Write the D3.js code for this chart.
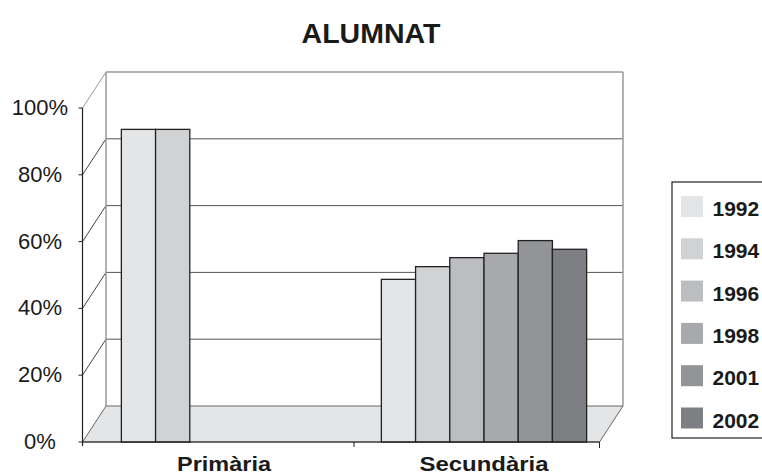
<!DOCTYPE html>
<html>
<head>
<meta charset="utf-8">
<script src="https://cdn.jsdelivr.net/npm/d3@7"></script>
<style>
  html, body { margin: 0; padding: 0; background: #fff; }
  #chart { width: 762px; height: 475px; }
</style>
</head>
<body>
<div id="chart"></div>
<script>
// ---- data ----
const categories = ['Primària', 'Secundària']
const years = ['1992', '1994', '1996', '1998', '2001', '2002']
const primaria = [93.6, 93.6, null, null, null, null]
const secundaria = [48.7, 52.5, 55.2, 56.5, 60.3, 57.7]
const yTicks = [0, 20, 40, 60, 80, 100]
const title = 'ALUMNAT'

const colors = ['#e4e5e7', '#d1d2d4', '#bcbdc0', '#a8a9ac', '#939497', '#7e7f82']
const font = '"Liberation Sans", Arial, sans-serif'

const width = 762
const height = 475
// front plane of the 3D box + depth offset
const front = { left: 82.5, right: 599.5, top: 108, bottom: 442 }
const depth = { dx: 23.5, dy: -36 }

const rows = []
categories.forEach((c, i) => {
  const vals = i === 0 ? primaria : secundaria
  years.forEach((yr, j) => {
    if (vals[j] != null) rows.push({ cat: c, year: yr, value: vals[j] })
  })
})

const svg = d3.select('#chart')
  .append('svg')
  .attr('width', width)
  .attr('height', height)

// Scales
const yScale = d3.scaleLinear()
  .domain([0, 100])
  .range([front.bottom, front.top])

const xCat = d3.scaleBand()
  .domain(categories)
  .range([front.left + 11.5, front.right + 14.5])
  .padding(0)

const xYear = d3.scaleBand()
  .domain(years)
  .range([0, xCat.bandwidth()])
  .paddingInner(0)
  .paddingOuter(0.8)

const backY = v => yScale(v) + depth.dy
const backLeft = front.left + depth.dx
const backRight = front.right + depth.dx

// ---- walls ----
const walls = svg.append('g').attr('class', 'walls')

// back wall gridlines
walls.selectAll('line.grid')
  .data(yTicks.filter(d => d > 0))
  .join('line')
  .attr('class', 'grid')
  .attr('x1', backLeft).attr('x2', backRight)
  .attr('y1', d => backY(d)).attr('y2', d => backY(d))
  .attr('stroke', d => d === 100 ? '#999' : '#555')
  .attr('stroke-width', d => d === 100 ? 1.5 : 1)

// left wall diagonals
walls.selectAll('line.diag')
  .data(yTicks.filter(d => d > 0))
  .join('line')
  .attr('class', 'diag')
  .attr('x1', front.left).attr('x2', backLeft)
  .attr('y1', d => yScale(d)).attr('y2', d => backY(d))
  .attr('stroke', d => d === 100 ? '#999' : '#444')
  .attr('stroke-width', 1)

// back wall vertical edges
walls.append('line')
  .attr('x1', backLeft).attr('x2', backLeft)
  .attr('y1', backY(100)).attr('y2', backY(0))
  .attr('stroke', '#999').attr('stroke-width', 1.5)
walls.append('line')
  .attr('x1', backRight).attr('x2', backRight)
  .attr('y1', backY(100)).attr('y2', backY(0))
  .attr('stroke', '#999').attr('stroke-width', 1.5)

// floor
const floorPts = [
  [front.left, yScale(0)], [front.right, yScale(0)],
  [backRight, backY(0)], [backLeft, backY(0)]
]
walls.append('polygon')
  .attr('points', floorPts.map(p => p.join(',')).join(' '))
  .attr('fill', '#e4e5e7')
  .attr('stroke', '#666')
  .attr('stroke-width', 1)

// ---- bars ----
svg.append('g')
  .attr('class', 'bars')
  .selectAll('rect')
  .data(rows)
  .join('rect')
  .attr('x', d => xCat(d.cat) + xYear(d.year))
  .attr('y', d => yScale(d.value))
  .attr('width', xYear.bandwidth())
  .attr('height', d => yScale(0) - yScale(d.value))
  .attr('fill', d => colors[years.indexOf(d.year)])
  .attr('stroke', '#222')
  .attr('stroke-width', 1.3)

// ---- axes ----
// front vertical axis
svg.append('line')
  .attr('x1', front.left).attr('x2', front.left)
  .attr('y1', yScale(100)).attr('y2', yScale(0) + 4)
  .attr('stroke', '#222').attr('stroke-width', 1.2)

svg.append('g')
  .selectAll('line')
  .data(yTicks)
  .join('line')
  .attr('x1', front.left - 4).attr('x2', front.left)
  .attr('y1', d => yScale(d)).attr('y2', d => yScale(d))
  .attr('stroke', '#222')

svg.append('g')
  .selectAll('text')
  .data(yTicks)
  .join('text')
  .attr('x', 40)
  .attr('y', d => yScale(d) + 7)
  .attr('text-anchor', 'middle')
  .attr('font-family', font)
  .attr('font-size', '22px')
  .attr('fill', '#1a1a1a')
  .text(d => d + '%')

// front floor edge
svg.append('line')
  .attr('x1', front.left).attr('x2', front.right)
  .attr('y1', yScale(0)).attr('y2', yScale(0))
  .attr('stroke', '#222').attr('stroke-width', 1.2)

// category ticks
svg.append('g')
  .selectAll('line')
  .data(categories.slice(1))
  .join('line')
  .attr('x1', d => xCat(d)).attr('x2', d => xCat(d))
  .attr('y1', yScale(0)).attr('y2', yScale(0) + 5)
  .attr('stroke', '#222')
svg.append('line')
  .attr('x1', front.right).attr('x2', front.right)
  .attr('y1', yScale(0)).attr('y2', yScale(0) + 6)
  .attr('stroke', '#222')

// labels are a bit wider than tall in the original: stretch to measured width
const catLabelWidth = [94, 129]
svg.append('g')
  .selectAll('text')
  .data(categories)
  .join('text')
  .attr('x', d => xCat(d) + xCat.bandwidth() / 2)
  .attr('y', 470.5)
  .attr('text-anchor', 'middle')
  .attr('font-family', font)
  .attr('font-size', '20px')
  .attr('font-weight', 'bold')
  .attr('fill', '#1a1a1a')
  .attr('textLength', (d, i) => catLabelWidth[i])
  .attr('lengthAdjust', 'spacingAndGlyphs')
  .text(d => d)

// ---- title ----
svg.append('text')
  .attr('x', 371)
  .attr('y', 43)
  .attr('text-anchor', 'middle')
  .attr('font-family', font)
  .attr('font-size', '28.5px')
  .attr('font-weight', 'bold')
  .attr('fill', '#1a1a1a')
  .text(title)

// ---- legend ----
const legend = svg.append('g').attr('transform', 'translate(672,182)')
legend.append('rect')
  .attr('width', 120).attr('height', 256)
  .attr('fill', '#fff')
  .attr('stroke', '#222').attr('stroke-width', 1.2)

const item = legend.selectAll('g.item')
  .data(years)
  .join('g')
  .attr('class', 'item')
  .attr('transform', (d, i) => `translate(9,${14 + i * 42.3})`)

item.append('rect')
  .attr('width', 22).attr('height', 21)
  .attr('fill', (d, i) => colors[i])

item.append('text')
  .attr('x', 31.5)
  .attr('y', 20)
  .attr('font-family', font)
  .attr('font-size', '21px')
  .attr('font-weight', 'bold')
  .attr('fill', '#1a1a1a')
  .text(d => d)
</script>
</body>
</html>
